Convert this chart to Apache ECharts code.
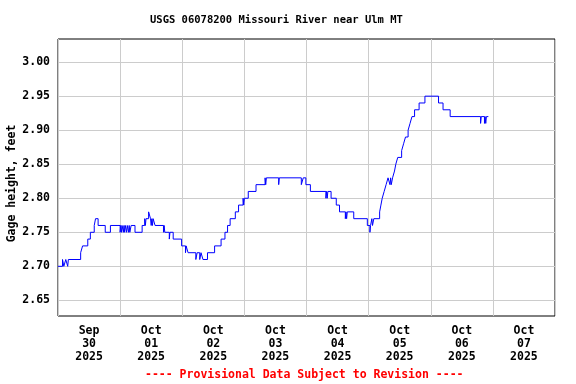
<!DOCTYPE html>
<html>
<head>
<meta charset="utf-8">
<script src="https://cdn.jsdelivr.net/npm/echarts@6/dist/echarts.min.js"></script>
<style>
html,body{margin:0;padding:0;background:#fff;}
#c{width:576px;height:384px;}
</style>
</head>
<body>
<div id="c"></div>
<script>
// Hours since 2025-09-30 00:00 at which the gage value changes
var hours = [0,1.75,2.25,3.0,3.75,4.0,8.75,9.5,11.5,12.5,14.0,14.5,15.5,18.25,20.25,
  24.0,24.25,24.5,24.75,25.25,25.5,25.75,26.0,26.5,26.75,27.25,27.5,27.75,28.25,29.75,
  32.5,33.5,33.75,34.0,35.0,35.75,36.0,36.25,36.5,36.75,37.5,40.75,41.0,41.25,43.0,43.25,
  44.5,47.75,49.25,49.5,50.25,53.25,53.75,54.75,55.25,56.0,57.75,60.5,63.0,64.5,65.5,66.5,
  68.5,69.75,71.5,71.75,72.0,73.5,76.5,80.0,80.25,80.5,85.25,85.5,94.0,94.75,95.75,97.5,
  103.5,103.75,104.0,104.25,105.5,107.5,108.75,111.0,111.25,111.5,111.75,114.25,119.5,
  120.5,120.75,121.25,121.5,122.0,124.25,124.75,125.25,126.0,126.75,127.5,128.25,128.5,
  128.75,129.25,130.0,130.5,131.25,132.75,133.5,134.25,135.25,136.0,136.75,137.75,139.5,
  141.75,147.0,148.75,151.5,163.25,163.5,164.75,165.0,165.25,165.5,166.25];
var gage = [2.70,2.71,2.70,2.71,2.70,2.71,2.72,2.73,2.74,2.75,2.76,2.77,2.76,2.75,2.76,
  2.75,2.76,2.75,2.76,2.75,2.76,2.75,2.76,2.75,2.76,2.75,2.76,2.75,2.76,2.75,
  2.76,2.77,2.76,2.77,2.78,2.77,2.76,2.77,2.76,2.77,2.76,2.75,2.76,2.75,2.74,2.75,
  2.74,2.73,2.72,2.73,2.72,2.71,2.72,2.71,2.72,2.71,2.72,2.73,2.74,2.75,2.76,2.77,
  2.78,2.79,2.80,2.79,2.80,2.81,2.82,2.83,2.82,2.83,2.82,2.83,2.82,2.83,2.82,2.81,
  2.80,2.81,2.80,2.81,2.80,2.79,2.78,2.77,2.78,2.77,2.78,2.77,2.76,
  2.75,2.76,2.77,2.76,2.77,2.78,2.79,2.80,2.81,2.82,2.83,2.82,2.83,
  2.82,2.83,2.84,2.85,2.86,2.87,2.88,2.89,2.90,2.91,2.92,2.93,2.94,
  2.95,2.94,2.93,2.92,2.91,2.92,2.91,2.92,2.91,2.92,2.92];
var dayLabels = ['Sep\n30\n2025','Oct\n01\n2025','Oct\n02\n2025','Oct\n03\n2025',
  'Oct\n04\n2025','Oct\n05\n2025','Oct\n06\n2025','Oct\n07\n2025'];
var yTicks = [2.65,2.70,2.75,2.80,2.85,2.90,2.95,3.00];
var titleText = 'USGS 06078200 Missouri River near Ulm MT';
var footerText = '---- Provisional Data Subject to Revision ----';
var yName = 'Gage height, feet';

var FONT = '"DejaVu Sans Mono", "Liberation Mono", monospace';
var data = hours.map(function(h, i){ return [h, gage[i]]; });

var chart = echarts.init(document.getElementById('c'), null, {renderer:'canvas'});
chart.setOption({
  animation: false,
  backgroundColor: '#ffffff',
  title: [
    {text: titleText, left: 150, top: 15, padding: 0,
     textStyle: {fontFamily: FONT, fontSize: 10.5, fontWeight: 'bold', color: '#000'}},
    {text: footerText, left: 145, top: 369, padding: 0,
     textStyle: {fontFamily: FONT, fontSize: 11.5, fontWeight: 'bold', color: '#ff0000'}}
  ],
  grid: {left: 58, top: 39, right: 21, bottom: 68, show: true,
         borderColor: '#000', borderWidth: 1, containLabel: false,
         outerBoundsMode: 'none'},
  xAxis: [
    {type: 'category', data: dayLabels, boundaryGap: true, position: 'bottom',
     axisLine: {show: false}, axisTick: {show: false},
     splitLine: {show: true, interval: 0, lineStyle: {color: '#cccccc', width: 1}},
     axisLabel: {interval: 0, margin: 9, lineHeight: 13, fontFamily: FONT,
                 fontSize: 11.5, fontWeight: 'bold', color: '#000'}},
    {type: 'value', min: 0, max: 192, show: false,
     splitLine: {show: false}}
  ],
  yAxis: {
    type: 'value', min: 2.627, max: 3.034,
    name: yName, nameLocation: 'middle', nameGap: 40, nameRotate: 90,
    nameMoveOverlap: false,
    nameTextStyle: {fontFamily: FONT, fontSize: 11.5, fontWeight: 'bold', color: '#000',
                    padding: [0, 12, 0, 0]},
    axisLine: {show: false},
    axisTick: {show: false, customValues: yTicks},
    axisLabel: {customValues: yTicks, margin: 8, fontFamily: FONT, fontSize: 11.5,
                fontWeight: 'bold', color: '#000',
                formatter: function(v){ return v.toFixed(2); }},
    splitLine: {show: true, lineStyle: {color: '#cccccc', width: 1}}
  },
  series: [{
    type: 'line', xAxisIndex: 1, data: data, step: 'end',
    showSymbol: false, symbol: 'none',
    lineStyle: {color: '#0000ff', width: 1},
    z: 5
  }]
});
</script>
</body>
</html>
